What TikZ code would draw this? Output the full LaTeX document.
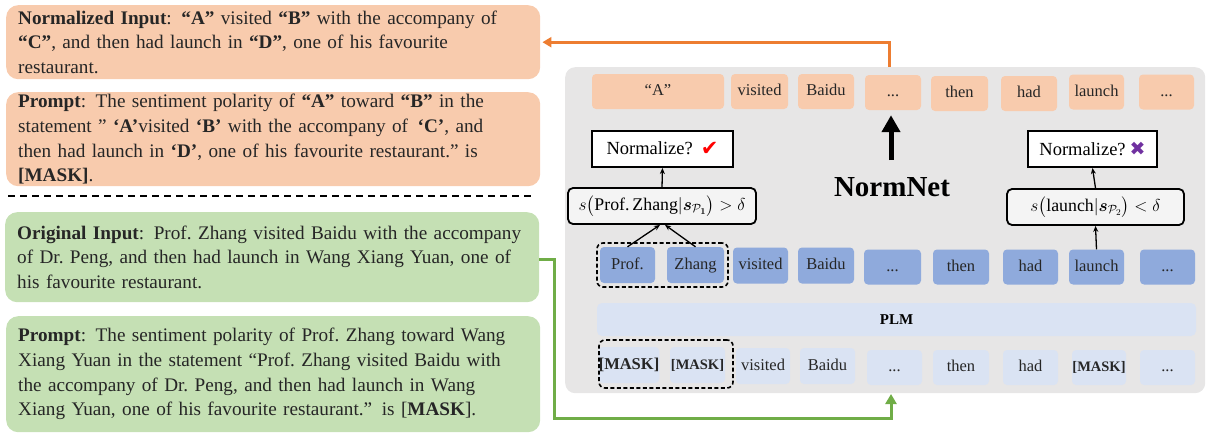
\documentclass[tikz,border=0pt]{standalone}
\usepackage{amsmath}
\usepackage{fontspec}
\setmainfont{Liberation Serif}
\newfontfamily\symfont{DejaVu Sans}
\usetikzlibrary{arrows.meta}
\definecolor{peach}{HTML}{F8CBAD}
\definecolor{lgreen}{HTML}{C5E0B4}
\definecolor{panelgray}{HTML}{E7E6E6}
\definecolor{tokblue}{HTML}{8FAADC}
\definecolor{lblue}{HTML}{DAE3F3}
\definecolor{arrorange}{HTML}{ED7D31}
\definecolor{arrgreen}{HTML}{70AD47}
\definecolor{txt}{HTML}{262626}
\definecolor{crosspurple}{HTML}{7030A0}
\definecolor{sboxfill}{HTML}{F4F4F4}
\begin{document}
\begin{tikzpicture}[x=1pt,y=-1pt,
  lbox/.style={rounded corners=12pt, anchor=north west, inner xsep=12pt, inner ysep=0pt,
    text width=510pt, align=left, font=\fontsize{19.2}{24.7}\selectfont, text=txt},
  tok/.style={rounded corners=4pt, inner sep=0pt, minimum height=35pt, text=txt,
    text height=11.5pt, text depth=3.5pt, font=\fontsize{16.5}{18}\selectfont},
  toptok/.style={tok, fill=peach},
  midtok/.style={tok, fill=tokblue},
  bottok/.style={tok, fill=lblue},
  normbox/.style={draw=black, line width=2pt, fill=white, inner sep=0pt, minimum height=36pt,
    font=\fontsize{18.5}{20}\selectfont},
  sbox/.style={draw=black, line width=1.8pt, fill=sboxfill, rounded corners=5pt, inner sep=0pt,
    minimum height=36pt, font=\fontsize{17.8}{20}\selectfont},
  dashbox/.style={draw=black, dashed, dash pattern=on 4pt off 2.5pt, line width=1.6pt, rounded corners=6pt, inner sep=0pt},
  thinarrow/.style={line width=1.3pt, -{Stealth[length=6pt,width=5pt]}},
  orangearrow/.style={draw=arrorange, line width=3pt, -{Triangle[width=10pt,length=9pt]}},
  greenarrow/.style={draw=arrgreen, line width=3pt, -{Triangle[width=11pt,length=10pt]}},
]
\useasboundingbox (0,0) rectangle (1210,434);

% ---------- left text boxes ----------
\node[lbox, fill=peach, minimum height=74pt] (ninput) at (6,5) {%
\textbf{Normalized Input}: \textbf{“A”} visited \textbf{“B”} with the accompany of\\
\textbf{“C”}, and then had launch in \textbf{“D”}, one of his favourite\\
restaurant.};

\node[lbox, fill=peach, minimum height=94pt] (nprompt) at (6,92) {%
\textbf{Prompt}: The sentiment polarity of \textbf{“A”} toward \textbf{“B”} in the\\
statement " \textbf{‘A’}visited \textbf{‘B’} with the accompany of\, \textbf{‘C’}, and\\
then had launch in \textbf{‘D’}, one of his favourite restaurant." is\\
\textbf{[MASK]}.};

\draw[line width=2pt, dash pattern=on 7pt off 5pt] (8,196) -- (532,196);

\node[lbox, fill=lgreen, minimum height=90pt] (oinput) at (5,212) {%
\textbf{Original Input}: Prof.\ Zhang visited Baidu with the accompany\\
of Dr.\ Peng, and then had launch in Wang Xiang Yuan, one of\\
his favourite restaurant.};

\node[lbox, fill=lgreen, minimum height=116pt] (oprompt) at (6,316) {%
\textbf{Prompt}: The sentiment polarity of Prof.\ Zhang toward Wang\\
Xiang Yuan in the statement “Prof.\ Zhang visited Baidu with\\
the accompany of Dr.\ Peng, and then had launch in Wang\\
Xiang Yuan, one of his favourite restaurant.” is [\textbf{MASK}].};

% ---------- NormNet panel ----------
\node[fill=panelgray, rounded corners=10pt, minimum width=640pt, minimum height=326pt,
  anchor=north west, inner sep=0pt] (panel) at (565,67) {};

% top (normalized) tokens
\node[toptok, minimum width=132pt] (tA) at (658,91.5) {“A”};
\node[toptok, minimum width=57pt] (tvisited) at (759.5,91.5) {visited};
\node[toptok, minimum width=56pt] (tbaidu) at (826,91.5) {Baidu};
\node[toptok, minimum width=56pt] (tdots) at (893,92.5) {...};
\node[toptok, minimum width=57pt] (tthen) at (959.5,93.5) {then};
\node[toptok, minimum width=56pt] (thad) at (1029,93.5) {had};
\node[toptok, minimum width=55pt] (tlaunch) at (1096.5,92) {launch};
\node[toptok, minimum width=55pt] (tdots2) at (1166.5,92) {...};

% decisions
\node[normbox, minimum width=141pt] (norm1) at (662.5,149) {Normalize?\hspace{8pt}\raisebox{-1pt}{\fontsize{21}{24}\symfont\color{red}✔}};
\node[normbox, minimum width=129pt] (norm2) at (1092.5,149) {Normalize?\hspace{4pt}\raisebox{-0.5pt}{\fontsize{19}{24}\symfont\color{crosspurple}✖}};

\node[sbox, minimum width=188pt] (s1) at (662,206)
  {$s\big(\text{Prof.\,Zhang}|\boldsymbol{s}_{\mathcal{P}_{\boldsymbol{1}}}\big) > \delta$};
\node[sbox, minimum width=177pt] (s2) at (1095.5,207)
  {$s\big(\text{launch}|\boldsymbol{s}_{\mathcal{P}_2}\big) < \delta$};

\node[font=\fontsize{29}{32}\selectfont\bfseries, text=black, inner sep=0pt] (normnet) at (892,187) {NormNet};

% middle (PLM output) tokens
\node[midtok, minimum width=55pt, minimum height=36pt] (mprof) at (627.5,265) {Prof.};
\node[midtok, minimum width=57pt, minimum height=36pt] (mzhang) at (695.5,265) {Zhang};
\node[midtok, minimum width=55pt, minimum height=36pt] (mvisited) at (760.5,265.5) {visited};
\node[midtok, minimum width=56pt, minimum height=36pt] (mbaidu) at (826,265.5) {Baidu};
\node[midtok, minimum width=57pt, minimum height=35pt] (mdots) at (892.5,267) {...};
\node[midtok, minimum width=56pt, minimum height=35pt] (mthen) at (961,267) {then};
\node[midtok, minimum width=55pt, minimum height=35pt] (mhad) at (1030.5,267) {had};
\node[midtok, minimum width=55pt, minimum height=35pt] (mlaunch) at (1096.5,267) {launch};
\node[midtok, minimum width=55pt, minimum height=35pt] (mdots2) at (1167.5,267) {...};
\node[dashbox, minimum width=131pt, minimum height=44pt] (mgroup) at (662.5,265) {};

% PLM
\node[fill=lblue, rounded corners=5pt, minimum width=599pt, minimum height=33pt, inner sep=0pt,
  font=\fontsize{15}{17}\selectfont\bfseries, text=black] (plm) at (896.5,319.5) {PLM};

% bottom (masked input) tokens
\node[bottok, minimum width=56pt, minimum height=36pt] (bmask1) at (629,365) {\textbf{[MASK]}};
\node[bottok, minimum width=55pt, minimum height=36pt] (bmask2) at (697.5,365) {\fontsize{14.5}{16}\selectfont\textbf{[MASK]}};
\node[bottok, minimum width=54pt, minimum height=36pt] (bvisited) at (763,366) {visited};
\node[bottok, minimum width=55pt, minimum height=36pt] (bbaidu) at (827.5,366) {Baidu};
\node[bottok, minimum width=55pt, minimum height=35pt] (bdots) at (894.5,367.5) {...};
\node[bottok, minimum width=56pt, minimum height=35pt] (bthen) at (961,367.5) {then};
\node[bottok, minimum width=55pt, minimum height=35pt] (bhad) at (1030.5,367.5) {had};
\node[bottok, minimum width=54pt, minimum height=35pt] (bmask3) at (1099,367.5) {\fontsize{14.5}{16}\selectfont\textbf{[MASK]}};
\node[bottok, minimum width=55pt, minimum height=35pt] (bdots2) at (1167.5,367.5) {...};
\node[dashbox, minimum width=134pt, minimum height=48pt] (bgroup) at (666,364) {};

% ---------- connectors ----------
\draw[thinarrow] (s1.north) -- (norm1.south);
\draw[thinarrow] (s2.north) -- (norm2.south);
\draw[thinarrow] (mprof.north) -- ([xshift=-2pt]s1.south);
\draw[thinarrow] (mzhang.north) -- ([xshift=3pt]s1.south);
\draw[thinarrow] (mlaunch.north) -- (s2.south);

\coordinate (bigstart) at (891,160);
\draw[line width=5pt, -{Triangle[width=18pt,length=17pt]}, shorten >=5pt] (bigstart) -- (bigstart |- tdots.south);

\coordinate (orangestart) at (889,67);
\draw[orangearrow] (orangestart) |- ([xshift=2pt]ninput.east);

\coordinate (greenturn) at (554,418);
\coordinate (greenend) at (891,394);
\draw[greenarrow] ([yshift=-2pt]oinput.east) -| (greenturn) -| (greenend);
\end{tikzpicture}
\end{document}
